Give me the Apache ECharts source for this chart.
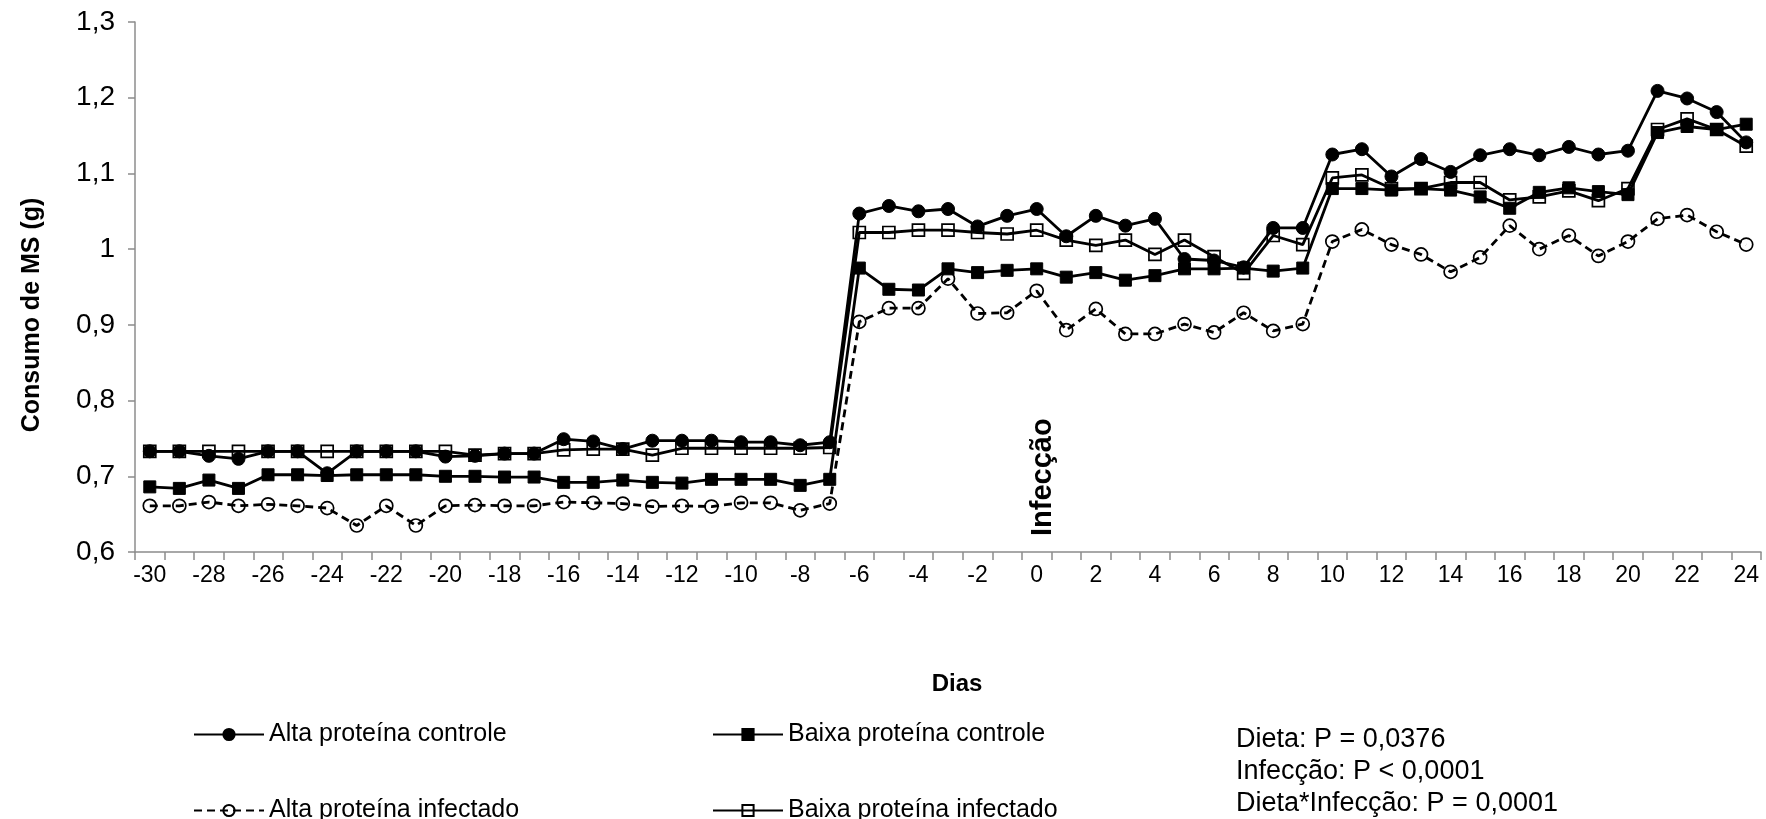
<!DOCTYPE html>
<html>
<head>
<meta charset="utf-8">
<script src="https://cdn.jsdelivr.net/npm/echarts@6/dist/echarts.min.js"></script>
<style>html,body{margin:0;padding:0;background:#fff;}#c{width:1766px;height:819px;}</style>
</head>
<body>
<div id="c"></div>
<script>
const days = ['-30','-29','-28','-27','-26','-25','-24','-23','-22','-21','-20','-19','-18','-17','-16','-15','-14','-13','-12','-11','-10','-9','-8','-7','-6','-5','-4','-3','-2','-1','0','1','2','3','4','5','6','7','8','9','10','11','12','13','14','15','16','17','18','19','20','21','22','23','24'];

const altaControle = [0.733,0.733,0.727,0.723,0.733,0.733,0.704,0.733,0.733,0.733,0.726,0.727,0.730,0.730,0.749,0.746,0.736,0.747,0.747,0.747,0.745,0.745,0.741,0.745,
  1.047,1.057,1.050,1.053,1.030,1.044,1.053,1.017,1.044,1.031,1.040,
  0.987,0.985,0.976,1.028,1.028,1.125,1.132,1.096,1.119,1.102,1.124,1.132,1.124,1.135,1.125,1.130,1.209,1.199,1.181,1.141];

const baixaControle = [0.686,0.684,0.695,0.684,0.702,0.702,0.701,0.702,0.702,0.702,0.700,0.700,0.699,0.699,0.692,0.692,0.695,0.692,0.691,0.696,0.696,0.696,0.688,0.696,
  0.975,0.947,0.946,0.974,0.969,0.972,0.974,0.963,0.969,0.959,0.965,
  0.974,0.974,0.975,0.971,0.975,1.080,1.080,1.078,1.080,1.078,1.069,1.054,1.075,1.081,1.076,1.072,1.154,1.162,1.158,1.165];

const altaInfectado = [0.661,0.661,0.666,0.661,0.663,0.661,0.658,0.635,0.661,0.635,0.661,0.662,0.661,0.661,0.666,0.665,0.664,0.660,0.661,0.660,0.665,0.665,0.655,0.664,
  0.904,0.922,0.922,0.961,0.915,0.916,0.945,0.893,0.921,0.888,0.888,
  0.901,0.890,0.916,0.892,0.901,1.010,1.026,1.006,0.993,0.970,0.989,1.031,1.000,1.018,0.991,1.010,1.040,1.045,1.023,1.006];

const baixaInfectado = [0.733,0.733,0.733,0.733,0.733,0.733,0.733,0.733,0.733,0.733,0.733,0.728,0.730,0.730,0.735,0.736,0.736,0.728,0.737,0.737,0.737,0.737,0.737,0.738,
  1.022,1.022,1.025,1.025,1.022,1.020,1.025,1.012,1.005,1.012,0.993,
  1.012,0.990,0.968,1.018,1.006,1.094,1.098,1.080,1.080,1.088,1.088,1.065,1.069,1.077,1.064,1.080,1.158,1.172,1.158,1.136];

const seriesNames = ['Alta proteína controle','Baixa proteína controle','Alta proteína infectado','Baixa proteína infectado'];
const statsLines = ['Dieta: P = 0,0376','Infecção: P < 0,0001','Dieta*Infecção: P = 0,0001'];
const infectionDay = '0';
const infectionLabel = 'Infecção';
const yAxisTitle = 'Consumo de MS (g)';
const xAxisTitle = 'Dias';

const FONT = 'Arial, "Liberation Sans", sans-serif';
const chart = echarts.init(document.getElementById('c'), null, {renderer: 'canvas'});

function lineSeries(name, data, symbol, filled, dashed) {
  return {
    name: name,
    type: 'line',
    data: data,
    symbol: symbol,
    symbolSize: symbol === 'rect' ? 12 : 13,
    showAllSymbol: true,
    animation: false,
    lineStyle: {color: '#000', width: 2.8, type: dashed ? [8, 5] : 'solid'},
    itemStyle: filled ? {color: '#000', borderColor: '#000', borderWidth: 1}
                      : {color: 'rgba(255,255,255,0)', borderColor: '#000', borderWidth: 1.7},
    emphasis: {disabled: true}
  };
}

const legendText = {fontFamily: FONT, fontSize: 25, color: '#000'};
function legendAt(name, left, topPos) {
  return {data: [name], orient: 'horizontal', left: left, top: topPos, padding: 0,
          itemWidth: 70, itemHeight: 14, itemGap: 0, textStyle: legendText, selectedMode: false};
}

chart.setOption({
  animation: false,
  backgroundColor: '#fff',
  grid: {left: 135, right: 5, top: 22, bottom: 267, containLabel: false},
  xAxis: {
    type: 'category',
    data: days,
    boundaryGap: true,
    axisLine: {lineStyle: {color: '#8c8c8c', width: 1.5}},
    axisTick: {show: true, length: 8, interval: 0, lineStyle: {color: '#8c8c8c', width: 1.5}},
    axisLabel: {interval: 1, fontFamily: FONT, fontSize: 23, color: '#000', margin: 12},
    splitLine: {show: false}
  },
  yAxis: {
    type: 'value',
    min: 0.6, max: 1.3, interval: 0.1,
    axisLine: {show: true, lineStyle: {color: '#8c8c8c', width: 1.5}},
    axisTick: {show: true, length: 7, lineStyle: {color: '#8c8c8c', width: 1.5}},
    axisLabel: {fontFamily: FONT, fontSize: 28, color: '#000', margin: 20,
      formatter: function (v) { return String(+v.toFixed(1)).replace('.', ','); }},
    splitLine: {show: false}
  },
  legend: [
    legendAt(seriesNames[0], 193, 722),
    legendAt(seriesNames[1], 712, 722),
    legendAt(seriesNames[2], 193, 798),
    legendAt(seriesNames[3], 712, 798)
  ],
  series: [
    lineSeries(seriesNames[0], altaControle, 'circle', true, false),
    lineSeries(seriesNames[1], baixaControle, 'rect', true, false),
    lineSeries(seriesNames[2], altaInfectado, 'circle', false, true),
    lineSeries(seriesNames[3], baixaInfectado, 'rect', false, false)
  ]
});

const pBottom = chart.convertToPixel({xAxisIndex: 0, yAxisIndex: 0}, [infectionDay, 0.6]);
const pTop = chart.convertToPixel({xAxisIndex: 0, yAxisIndex: 0}, [infectionDay, 1.3]);
chart.setOption({
  graphic: [
    {type: 'text', left: 1236, top: 724,
     style: {text: statsLines.join('\n'), fontFamily: FONT, fontSize: 27, lineHeight: 32, fill: '#000'}},
    {type: 'text', x: pBottom[0] + 6, y: pBottom[1] - 16, rotation: Math.PI / 2,
     style: {text: infectionLabel, fontFamily: FONT, fontSize: 29, fontWeight: 'bold', fill: '#000',
             align: 'left', verticalAlign: 'middle'}},
    {type: 'text', x: 32, y: (pBottom[1] + pTop[1]) / 2 + 28, rotation: Math.PI / 2,
     style: {text: yAxisTitle, fontFamily: FONT, fontSize: 25, fontWeight: 'bold', fill: '#000',
             align: 'center', verticalAlign: 'middle'}},
    {type: 'text', x: 957, y: 684,
     style: {text: xAxisTitle, fontFamily: FONT, fontSize: 24, fontWeight: 'bold', fill: '#000',
             align: 'center', verticalAlign: 'middle'}}
  ]
});
</script>
</body>
</html>
